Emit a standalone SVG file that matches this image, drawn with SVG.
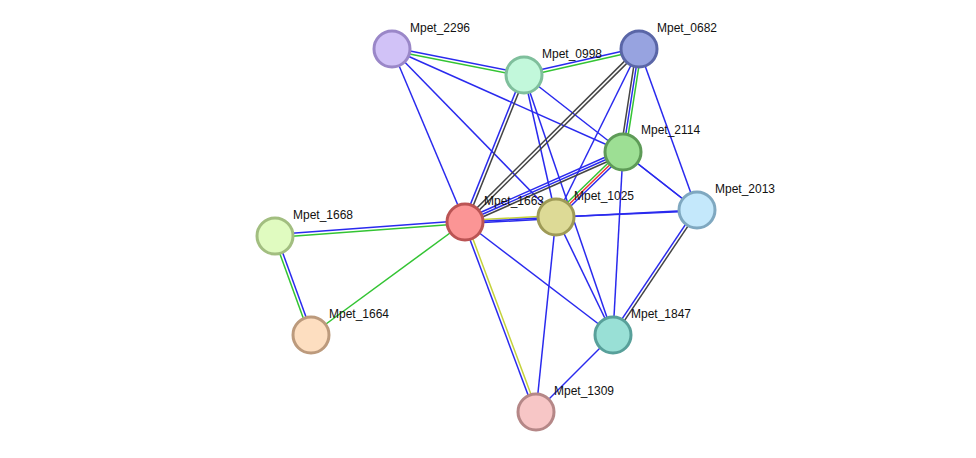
<svg xmlns="http://www.w3.org/2000/svg" width="976" height="458" viewBox="0 0 976 458">
<style>
line{stroke-width:1.5;fill:none}
.b{stroke:#2a2aee}.g{stroke:#33c433}.k{stroke:#444}.y{stroke:#c4d23a}.r{stroke:#ee3333}
circle{stroke-width:3}
text{font-family:"Liberation Sans",Arial,sans-serif;font-size:12px;fill:#111}
</style>
<rect width="976" height="458" fill="#fff"/>
<g id="connectors">
<line class="b" x1="392.3" y1="47.5" x2="524.3" y2="73.5"/><line class="g" x1="391.7" y1="50.5" x2="523.7" y2="76.5"/>
<line class="b" x1="392" y1="49" x2="623" y2="152"/>
<line class="b" x1="392" y1="49" x2="465" y2="222"/>
<line class="b" x1="392" y1="49" x2="556" y2="217"/>
<line class="b" x1="523.7" y1="73.5" x2="638.7" y2="47.5"/><line class="g" x1="524.3" y1="76.5" x2="639.3" y2="50.5"/>
<line class="b" x1="524" y1="75" x2="697" y2="210"/>
<line class="b" x1="522.6" y1="74.4" x2="463.6" y2="221.4"/><line class="k" x1="525.4" y1="75.6" x2="466.4" y2="222.6"/>
<line class="b" x1="524" y1="75" x2="556" y2="217"/>
<line class="b" x1="524" y1="75" x2="613" y2="335"/>
<line class="k" x1="637.9" y1="47.9" x2="463.9" y2="220.9"/><line class="k" x1="640.1" y1="50.1" x2="466.1" y2="223.1"/>
<line class="k" x1="636.5" y1="48.6" x2="620.5" y2="151.6"/><line class="b" x1="639" y1="49" x2="623" y2="152"/><line class="g" x1="641.5" y1="49.4" x2="625.5" y2="152.4"/>
<line class="b" x1="639" y1="49" x2="556" y2="217"/>
<line class="b" x1="639" y1="49" x2="697" y2="210"/>
<line class="b" x1="622" y1="149.7" x2="464" y2="219.7"/><line class="b" x1="623" y1="152" x2="465" y2="222"/><line class="k" x1="624" y1="154.3" x2="466" y2="224.3"/>
<line class="g" x1="621.3" y1="150.2" x2="554.3" y2="215.2"/><line class="r" x1="623" y1="152" x2="556" y2="217"/><line class="b" x1="624.7" y1="153.8" x2="557.7" y2="218.8"/>
<line class="b" x1="623" y1="152" x2="613" y2="335"/>
<line class="b" x1="623" y1="152" x2="697" y2="210"/>
<line class="y" x1="464.9" y1="220.5" x2="555.9" y2="215.5"/><line class="b" x1="465.1" y1="223.5" x2="556.1" y2="218.5"/>
<line class="b" x1="465" y1="222" x2="697" y2="210"/>
<line class="b" x1="556" y1="217" x2="697" y2="211"/>
<line class="b" x1="464.9" y1="220.5" x2="274.9" y2="234.5"/><line class="g" x1="465.1" y1="223.5" x2="275.1" y2="237.5"/>
<line class="g" x1="465" y1="222" x2="311" y2="335"/>
<line class="b" x1="463.6" y1="222.5" x2="534.6" y2="412.5"/><line class="y" x1="466.4" y1="221.5" x2="537.4" y2="411.5"/>
<line class="b" x1="465" y1="222" x2="613" y2="335"/>
<line class="b" x1="556" y1="217" x2="536" y2="412"/>
<line class="b" x1="556" y1="217" x2="613" y2="335"/>
<line class="b" x1="695.8" y1="209.2" x2="611.8" y2="334.2"/><line class="k" x1="698.2" y1="210.8" x2="614.2" y2="335.8"/>
<line class="b" x1="613" y1="335" x2="536" y2="412"/>
<line class="g" x1="273.6" y1="236.5" x2="309.6" y2="335.5"/><line class="b" x1="276.4" y1="235.5" x2="312.4" y2="334.5"/>
</g>
<g id="Mpet_2296"><circle cx="392" cy="49" r="18" fill="#d1c2f7" stroke="#9a87c8"/><text x="410" y="32">Mpet_2296</text></g>
<g id="Mpet_0998"><circle cx="524" cy="75" r="18" fill="#c2f8db" stroke="#7fbf9c"/><text x="542" y="58">Mpet_0998</text></g>
<g id="Mpet_0682"><circle cx="639" cy="49" r="18" fill="#97a3e0" stroke="#5a66a7"/><text x="657" y="32">Mpet_0682</text></g>
<g id="Mpet_2114"><circle cx="623" cy="152" r="18" fill="#9ddf94" stroke="#5e9b57"/><text x="641" y="134">Mpet_2114</text></g>
<g id="Mpet_2013"><circle cx="697" cy="210" r="18" fill="#c4e8fb" stroke="#7fa8c0"/><text x="715" y="193">Mpet_2013</text></g>
<g id="Mpet_1663"><circle cx="465" cy="222" r="18" fill="#fb9595" stroke="#bb5454"/><text x="484" y="205">Mpet_1663</text></g>
<g id="Mpet_1025"><circle cx="556" cy="217" r="18" fill="#ddda96" stroke="#9e9a56"/><text x="574" y="200">Mpet_1025</text></g>
<g id="Mpet_1668"><circle cx="275" cy="236" r="18" fill="#e0fbc0" stroke="#a2be80"/><text x="293" y="219">Mpet_1668</text></g>
<g id="Mpet_1664"><circle cx="311" cy="335" r="18" fill="#fddec0" stroke="#bc9a7c"/><text x="329" y="318">Mpet_1664</text></g>
<g id="Mpet_1847"><circle cx="613" cy="335" r="18" fill="#99e0d6" stroke="#58a09a"/><text x="631" y="318">Mpet_1847</text></g>
<g id="Mpet_1309"><circle cx="536" cy="412" r="18" fill="#f7c6c6" stroke="#b58787"/><text x="554" y="395">Mpet_1309</text></g>
</svg>
